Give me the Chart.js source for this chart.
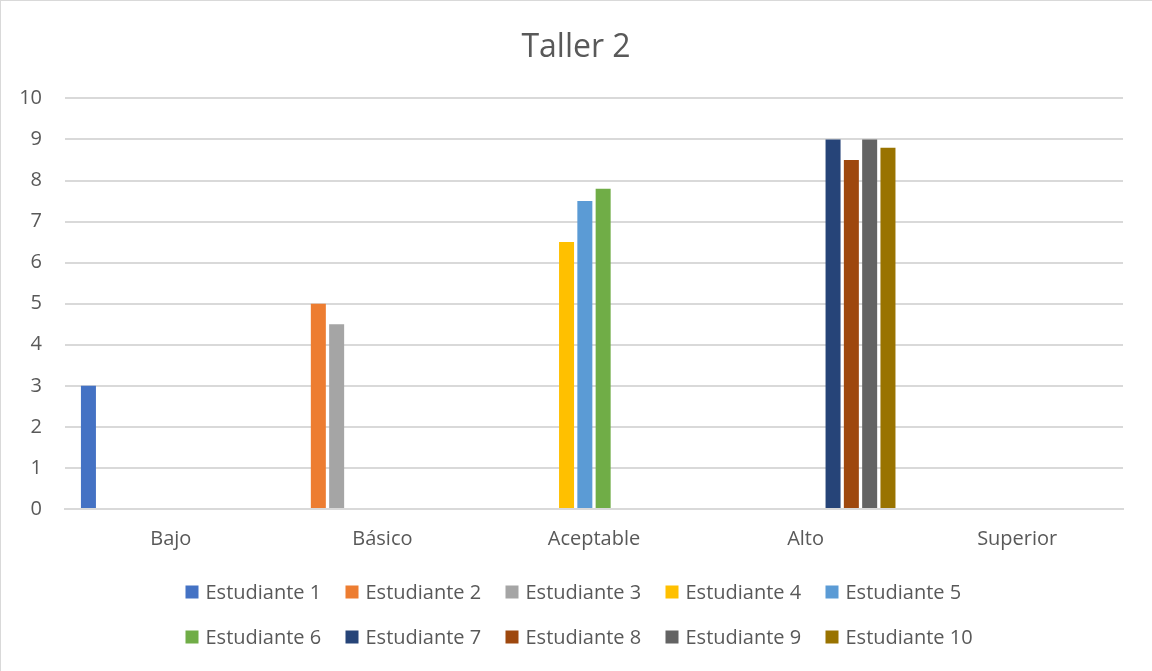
<!DOCTYPE html>
<html>
<head>
<meta charset="utf-8">
<script src="https://cdn.jsdelivr.net/npm/chart.js@4/dist/chart.umd.min.js"></script>
<style>
  body { margin: 0; background: #fff; }
  #wrap { width: 1151px; height: 670px; border-left: 1px solid #d9d9d9; border-top: 1px solid #d9d9d9; }
</style>
</head>
<body>
<div id="wrap"><canvas id="taller"></canvas></div>
<script>
var categorias = ['Bajo', 'Básico', 'Aceptable', 'Alto', 'Superior'];
var estudiantes = ['Estudiante 1', 'Estudiante 2', 'Estudiante 3', 'Estudiante 4', 'Estudiante 5',
                   'Estudiante 6', 'Estudiante 7', 'Estudiante 8', 'Estudiante 9', 'Estudiante 10'];
// each student has a value only in one category
var est1 = [3, null, null, null, null];
var est2 = [null, 5, null, null, null];
var est3 = [null, 4.5, null, null, null];
var est4 = [null, null, 6.5, null, null];
var est5 = [null, null, 7.5, null, null];
var est6 = [null, null, 7.8, null, null];
var est7 = [null, null, null, 9, null];
var est8 = [null, null, null, 8.5, null];
var est9 = [null, null, null, 9, null];
var est10 = [null, null, null, 8.8, null];
var valores = [est1, est2, est3, est4, est5, est6, est7, est8, est9, est10];
var colores = ['#4472C4', '#ED7D31', '#A5A5A5', '#FFC000', '#5B9BD5',
               '#70AD47', '#264478', '#9E480E', '#636363', '#997300'];

var fuente = "'Open Sans', 'Liberation Sans', sans-serif";
var gris = '#595959';

var datasets = [];
for (var i = 0; i < estudiantes.length; i++) {
    datasets.push({
        label: estudiantes[i],
        data: valores[i],
        backgroundColor: colores[i],
        borderWidth: 0,
        categoryPercentage: 0.865,
        barPercentage: 0.82
    });
}

// Excel style legend: 5 equal columns, 2 rows
var leyenda = {
    id: 'leyenda',
    afterDraw: function(chart) {
        var ctx = chart.ctx;
        var porFila = 5, ancho = 160, alto = 45;
        var x0 = chart.width / 2 - (porFila * ancho - 18) / 2;
        var y0 = chart.chartArea.bottom + 83;
        ctx.save();
        ctx.font = '20px ' + fuente;
        ctx.textBaseline = 'middle';
        ctx.textAlign = 'left';
        chart.data.datasets.forEach(function(ds, i) {
            var x = x0 + (i % porFila) * ancho;
            var y = y0 + Math.floor(i / porFila) * alto;
            ctx.fillStyle = ds.backgroundColor;
            ctx.fillRect(x, y - 6.5, 13, 13);
            ctx.fillStyle = gris;
            ctx.fillText(ds.label, x + 20, y + 1);
        });
        ctx.restore();
    }
};

new Chart(document.getElementById('taller'), {
    type: 'bar',
    data: { labels: categorias, datasets: datasets },
    plugins: [leyenda],
    options: {
        responsive: true,
        maintainAspectRatio: false,
        animation: false,
        layout: { padding: { left: 18, right: 19, top: 0, bottom: 110 } },
        plugins: {
            title: {
                display: true,
                text: 'Taller 2',
                color: gris,
                font: { family: fuente, size: 32, weight: 'normal' },
                padding: { top: 28, bottom: 31 }
            },
            legend: { display: false },
            tooltip: { enabled: false }
        },
        scales: {
            x: {
                grid: { display: false },
                border: { display: true, color: '#d9d9d9', width: 2 },
                ticks: { color: gris, font: { family: fuente, size: 20 }, padding: 10 }
            },
            y: {
                min: 0,
                max: 10,
                afterFit: function(scale) { scale.width = 46; },
                ticks: { stepSize: 1, color: gris, font: { family: fuente, size: 20 }, padding: 23 },
                grid: { color: '#d9d9d9', lineWidth: 2, drawTicks: false },
                border: { display: false }
            },
            // empty right margin so the title stays centred on the page
            margen: {
                position: 'right',
                afterFit: function(scale) { scale.width = 10; },
                ticks: { display: false },
                grid: { display: false },
                border: { display: false }
            }
        }
    }
});
</script>
</body>
</html>
